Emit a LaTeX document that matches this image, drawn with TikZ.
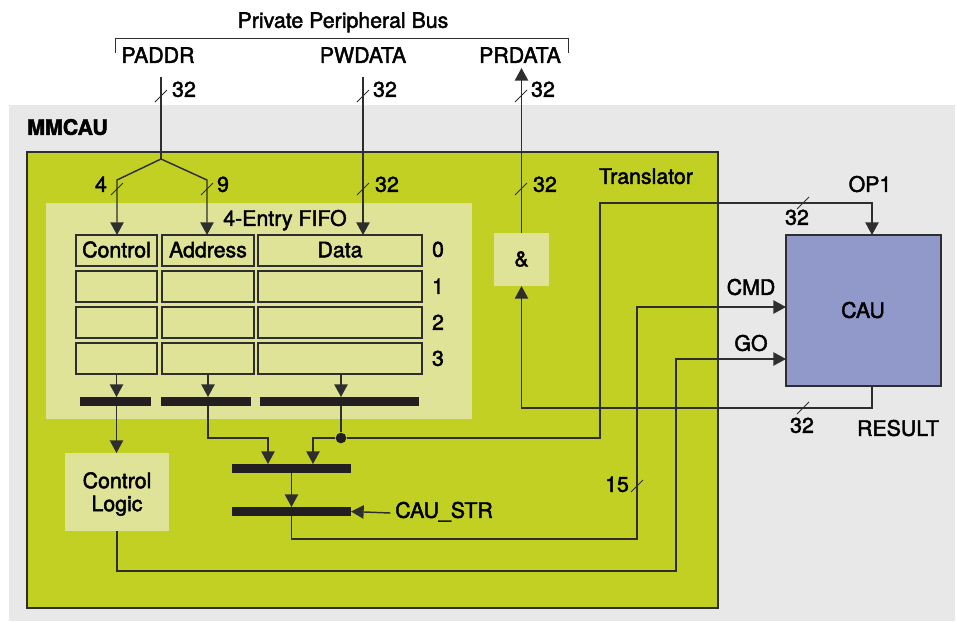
\documentclass[tikz,border=0pt]{standalone}
\usepackage{fontspec}
\setmainfont{TeX Gyre Heros}[FakeBold=2]
\usepackage{tikz}
\usetikzlibrary{arrows.meta,fit}
\usepackage{xcolor}
\definecolor{mmgray}{HTML}{E8E8E8}
\definecolor{trgreen}{HTML}{C2D024}
\definecolor{fifolight}{HTML}{DFE397}
\definecolor{caublue}{HTML}{9199CA}
\definecolor{linegray}{HTML}{2E2E2E}
\definecolor{barblack}{HTML}{231F20}

\begin{document}
\begin{tikzpicture}[x=0.75pt,y=-0.75pt,font=\fontsize{16}{17.25}\selectfont]
  \tikzset{lbl/.style={inner sep=0pt,text height=0.72em,text depth=0pt,text=black,yshift=-1.5pt}}
  \tikzset{plainbox/.style={inner sep=0pt,outer sep=0pt}}
  \tikzset{fifocell/.style={plainbox,draw=linegray,line width=1.1pt,fill=fifolight}}
  \tikzset{busbar/.style={plainbox,fill=barblack}}
  \tikzset{wire/.style={draw=linegray,line width=1.1pt}}
  \tikzset{arrowwire/.style={wire,-{Triangle[width=10pt,length=9.5pt]}}}
  \tikzset{busslash/.style={draw=linegray,line width=0.7pt}}
  \tikzset{tapdot/.style={circle,fill=barblack,inner sep=0pt,minimum size=8pt}}
  \useasboundingbox (0,0) rectangle (957,622);
  \node[plainbox,fill=mmgray,fit={(9,105) (955,621)}] (mmcau) {};
  \node[lbl,anchor=west,font=\fontsize{16}{17.25}\selectfont\bfseries] (mmcaulabel) at (27,128) {MMCAU};
  \node[plainbox,fill=trgreen,draw=linegray,line width=1.1pt,fit={(27,152) (718,608)}] (translator) {};
  \node[lbl] (translatorlabel) at (646,177) {Translator};
  \node[plainbox,fill=fifolight,fit={(46,203) (472,419)}] (fifo) {};
  \node[lbl] (fifolabel) at (285,219) {4-Entry FIFO};
  \node[fifocell,fit={(76,235) (157,266)}] (ctrl0) {};
  \node[fifocell,fit={(162,235) (254,266)}] (addr0) {};
  \node[fifocell,fit={(258,235) (422,266)}] (data0) {};
  \node[lbl] at (ctrl0) {Control};
  \node[lbl] at (addr0) {Address};
  \node[lbl] at (data0) {Data};
  \node[fifocell,fit={(76,271) (157,302)}] (ctrl1) {};
  \node[fifocell,fit={(162,271) (254,302)}] (addr1) {};
  \node[fifocell,fit={(258,271) (422,302)}] (data1) {};
  \node[fifocell,fit={(76,307) (157,338)}] (ctrl2) {};
  \node[fifocell,fit={(162,307) (254,338)}] (addr2) {};
  \node[fifocell,fit={(258,307) (422,338)}] (data2) {};
  \node[fifocell,fit={(76,343) (157,374)}] (ctrl3) {};
  \node[fifocell,fit={(162,343) (254,374)}] (addr3) {};
  \node[fifocell,fit={(258,343) (422,374)}] (data3) {};
  \node[lbl] (row0) at (438,250) {0};
  \node[lbl] (row1) at (438,287) {1};
  \node[lbl] (row2) at (438,323) {2};
  \node[lbl] (row3) at (438,359) {3};
  \node[busbar,fit={(80,397) (151,406)}] (bar1) {};
  \node[busbar,fit={(161,397) (251,406)}] (bar2) {};
  \node[busbar,fit={(260,397) (419,406)}] (bar3) {};
  \node[busbar,fit={(232,464) (351,473)}] (bar4) {};
  \node[busbar,fit={(232,507) (351,516)}] (bar5) {};
  \node[plainbox,fill=fifolight,fit={(65,453) (169,531)}] (ctrllogic) {};
  \node[inner sep=0pt,align=center] (ctrllogiclabel) at (117,494) {Control\\Logic};
  \node[plainbox,fill=fifolight,fit={(494,233) (549,286)}] (andgate) {};
  \node[lbl] at (andgate) {\&};
  \node[plainbox,fill=caublue,draw=linegray,line width=0.8pt,fit={(786,235) (941,386)}] (cau) {};
  \node[lbl] (caulabel) at (863,311) {CAU};
  \node[tapdot] (tap) at (341,438) {};
  % bus at the top
  \node[lbl] (ppb) at (343,21) {Private Peripheral Bus};
  \draw[busslash] (115,53) -- (115,38) -- (568,38) -- (568,53);
  \node[lbl] (paddr) at (158,56) {PADDR};
  \node[lbl] (pwdata) at (363,56) {PWDATA};
  \node[lbl] (prdata) at (520,56) {PRDATA};
  \coordinate (paddrend) at (161,77);
  \coordinate (pwdataend) at (363,77);
  \coordinate (prdataend) at (521,68);
  \coordinate (split) at (161,159);
  \coordinate (knee4) at (117,180);
  \coordinate (knee9) at (207,180);
  \draw[wire] (paddrend) -- (split);
  \draw[arrowwire] (split) -- (knee4) -- (knee4 |- ctrl0.north);
  \draw[arrowwire] (split) -- (knee9) -- (knee9 |- addr0.north);
  \draw[arrowwire] (pwdataend) -- (pwdataend |- data0.north);
  \draw[arrowwire] (andgate.north) -- (andgate.north |- prdataend);
  % fifo outputs
  \coordinate (addrbend) at (268,438);
  \coordinate (databend) at (313,438);
  \draw[arrowwire] (ctrl3.south) -- (ctrl3.south |- bar1.north);
  \draw[arrowwire] (addr3.south) -- (addr3.south |- bar2.north);
  \draw[arrowwire] (tap |- data3.south) -- (tap |- bar3.north);
  \draw[arrowwire] (ctrl3.south |- bar1.south) -- (ctrl3.south |- ctrllogic.north);
  \draw[arrowwire] (addr3.south |- bar2.south) |- (addrbend) -- (addrbend |- bar4.north);
  \draw[wire] (tap |- bar3.south) -- (tap);
  \draw[arrowwire] (tap) -- (databend) -- (databend |- bar4.north);
  \draw[arrowwire] (bar4.south) -- (bar5.north);
  \node[lbl,anchor=west,inner sep=0pt] (caustr) at (395,511) {CAU\_STR};
  \draw[arrowwire] ([xshift=-3.5pt]caustr.west) -- (bar5.east);
  % to and from the CAU
  \coordinate (opbend) at (600,203);
  \coordinate (oppin) at (872,203);
  \coordinate (cmdbend) at (637,539);
  \coordinate (cmdtop) at (637,307);
  \coordinate (gobend) at (676,571);
  \coordinate (gotop) at (676,359);
  \coordinate (resultbend) at (872,408);
  \draw[arrowwire] (tap) -| (opbend) -| (oppin |- cau.north);
  \draw[arrowwire] (bar5.south) |- (cmdbend) -- (cmdtop) -- (cmdtop -| cau.west);
  \draw[arrowwire] (ctrllogic.south) |- (gobend) -- (gotop) -- (gotop -| cau.west);
  \draw[arrowwire] (resultbend |- cau.south) -- (resultbend) -| (andgate.south);
  \node[lbl] (op1) at (870,185) {OP1};
  \node[lbl] (cmd) at (751,288) {CMD};
  \node[lbl] (go) at (751,344) {GO};
  \node[lbl] (result) at (898,429) {RESULT};
  % bus widths
  \draw[busslash] (155,102) -- ++(12,-12);
  \draw[busslash] (357,102) -- ++(12,-12);
  \draw[busslash] (515,102) -- ++(12,-12);
  \draw[busslash] (111,195) -- ++(12,-12);
  \draw[busslash] (201,195) -- ++(12,-12);
  \draw[busslash] (357,195) -- ++(12,-12);
  \draw[busslash] (515,195) -- ++(12,-12);
  \draw[busslash] (797,209) -- ++(12,-12);
  \draw[busslash] (797,414) -- ++(12,-12);
  \draw[busslash] (631,492) -- ++(12,-12);
  \node[lbl] (w1) at (184,90) {32};
  \node[lbl] (w2) at (385,90) {32};
  \node[lbl] (w3) at (543,90) {32};
  \node[lbl] (w4) at (101,185) {4};
  \node[lbl] (w5) at (223,185) {9};
  \node[lbl] (w6) at (387,185) {32};
  \node[lbl] (w7) at (545,185) {32};
  \node[lbl] (w8) at (797,218) {32};
  \node[lbl] (w9) at (802,426) {32};
  \node[lbl] (w10) at (617,485) {15};
\end{tikzpicture}
\end{document}
